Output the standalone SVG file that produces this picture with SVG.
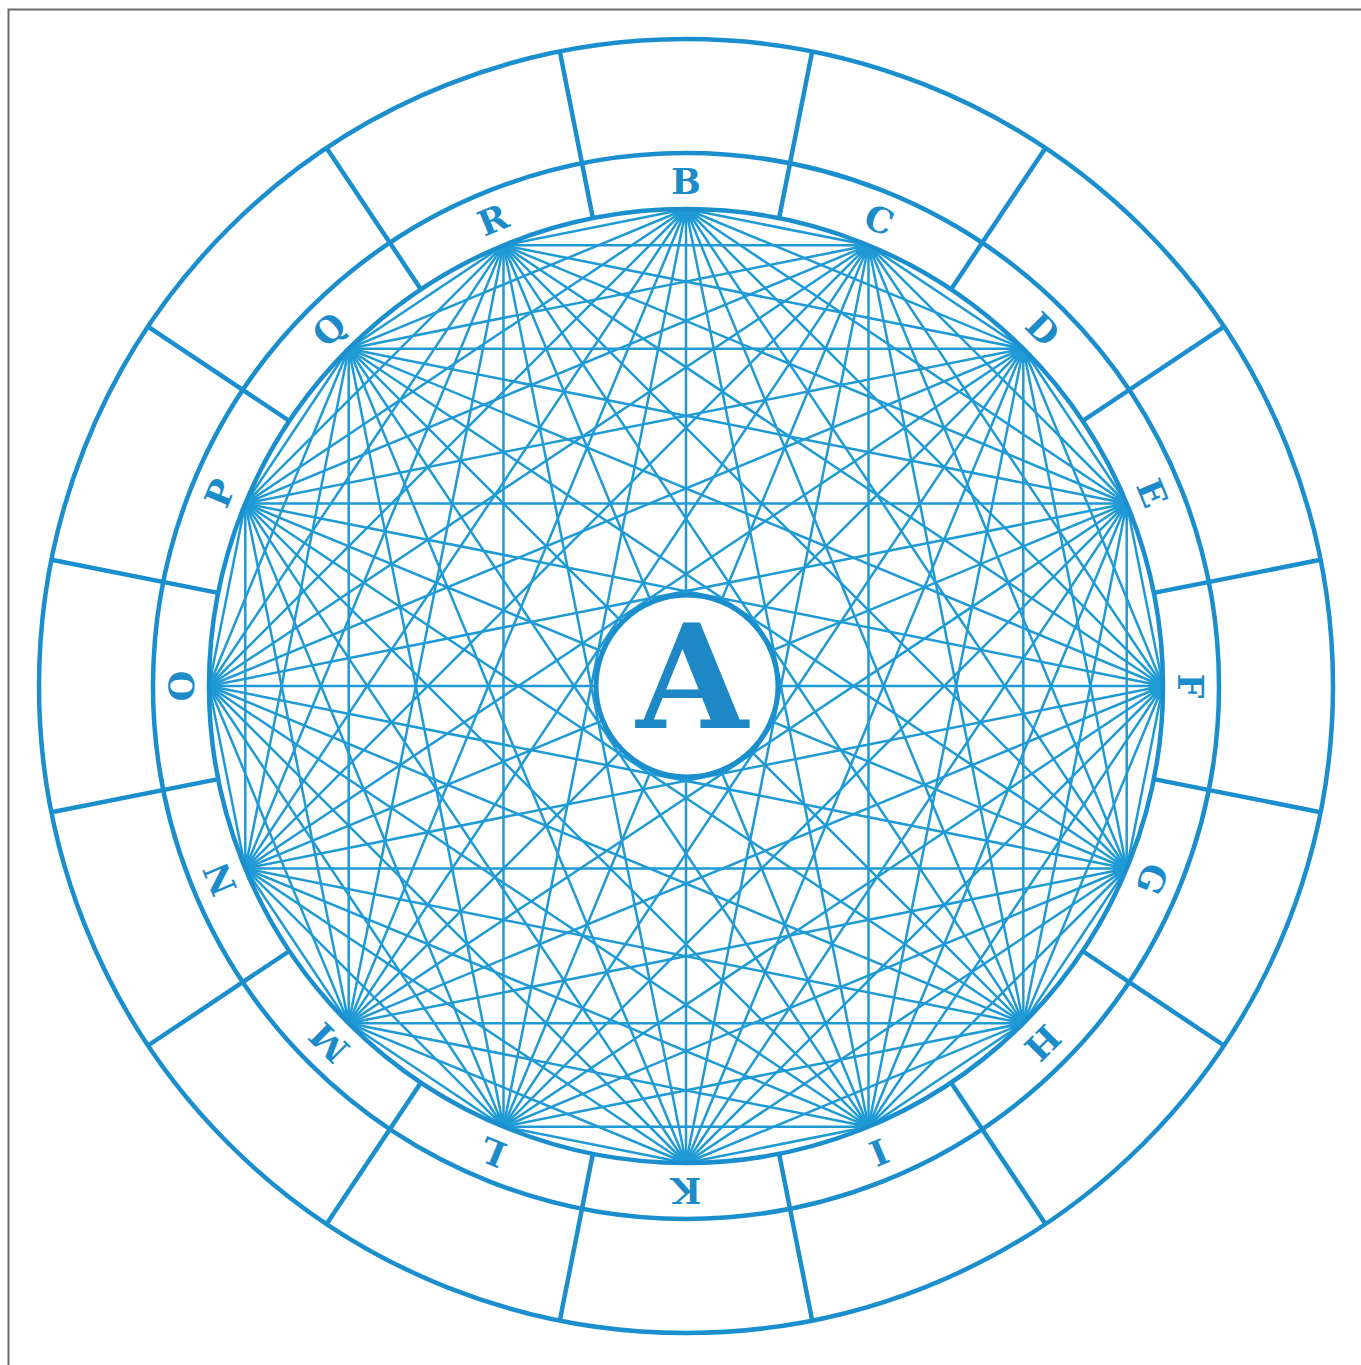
<svg xmlns="http://www.w3.org/2000/svg" width="1361" height="1365" viewBox="0 0 1361 1365">
<style>
.ring{fill:none;stroke:#1b8fcd;stroke-width:4.5}
.div{stroke:#1b8fcd;stroke-width:4.5}
.ch{fill:none;stroke:#1f9ad5;stroke-width:2.5}
.lbl{font-family:"DejaVu Serif","Liberation Serif",serif;font-weight:bold;font-size:35px;fill:#1b8bc9;text-anchor:middle}
.big{font-family:"DejaVu Serif","Liberation Serif",serif;font-weight:bold;font-size:144px;fill:#1e88c6;text-anchor:middle}
</style>
<rect width="1361" height="1365" fill="#fff"/>
<path d="M8.5 1365V9.5H1361" fill="none" stroke="#6a6a6a" stroke-width="2"/>
<g id="rings">
<circle class="ring" cx="686" cy="686" r="647"/>
<circle class="ring" cx="686" cy="686" r="533"/>
</g>
<g id="dividers">
<line class="div" x1="779.1" y1="218.2" x2="812.2" y2="51.4"/>
<line class="div" x1="951.0" y1="289.4" x2="1045.5" y2="148.0"/>
<line class="div" x1="1082.6" y1="421.0" x2="1224.0" y2="326.6"/>
<line class="div" x1="1153.8" y1="592.9" x2="1320.6" y2="559.8"/>
<line class="div" x1="1153.8" y1="779.1" x2="1320.6" y2="812.2"/>
<line class="div" x1="1082.6" y1="951.0" x2="1224.0" y2="1045.5"/>
<line class="div" x1="951.0" y1="1082.6" x2="1045.5" y2="1224.0"/>
<line class="div" x1="779.1" y1="1153.8" x2="812.2" y2="1320.6"/>
<line class="div" x1="592.9" y1="1153.8" x2="559.8" y2="1320.6"/>
<line class="div" x1="421.0" y1="1082.6" x2="326.6" y2="1224.0"/>
<line class="div" x1="289.4" y1="951.0" x2="148.0" y2="1045.5"/>
<line class="div" x1="218.2" y1="779.1" x2="51.4" y2="812.2"/>
<line class="div" x1="218.2" y1="592.9" x2="51.4" y2="559.8"/>
<line class="div" x1="289.4" y1="421.0" x2="148.0" y2="326.6"/>
<line class="div" x1="421.0" y1="289.4" x2="326.6" y2="148.0"/>
<line class="div" x1="592.9" y1="218.2" x2="559.8" y2="51.4"/>
</g>
<g id="connectors">
<path class="ch" d="M686 209L868.5 245.3M686 209L1023.3 348.7M686 209L1126.7 503.5M686 209L1163 686M686 209L1126.7 868.5M686 209L1023.3 1023.3M686 209L868.5 1126.7M686 209L686 1163M686 209L503.5 1126.7M686 209L348.7 1023.3M686 209L245.3 868.5M686 209L209 686M686 209L245.3 503.5M686 209L348.7 348.7M686 209L503.5 245.3"/>
<path class="ch" d="M868.5 245.3L1023.3 348.7M868.5 245.3L1126.7 503.5M868.5 245.3L1163 686M868.5 245.3L1126.7 868.5M868.5 245.3L1023.3 1023.3M868.5 245.3L868.5 1126.7M868.5 245.3L686 1163M868.5 245.3L503.5 1126.7M868.5 245.3L348.7 1023.3M868.5 245.3L245.3 868.5M868.5 245.3L209 686M868.5 245.3L245.3 503.5M868.5 245.3L348.7 348.7M868.5 245.3L503.5 245.3"/>
<path class="ch" d="M1023.3 348.7L1126.7 503.5M1023.3 348.7L1163 686M1023.3 348.7L1126.7 868.5M1023.3 348.7L1023.3 1023.3M1023.3 348.7L868.5 1126.7M1023.3 348.7L686 1163M1023.3 348.7L503.5 1126.7M1023.3 348.7L348.7 1023.3M1023.3 348.7L245.3 868.5M1023.3 348.7L209 686M1023.3 348.7L245.3 503.5M1023.3 348.7L348.7 348.7M1023.3 348.7L503.5 245.3"/>
<path class="ch" d="M1126.7 503.5L1163 686M1126.7 503.5L1126.7 868.5M1126.7 503.5L1023.3 1023.3M1126.7 503.5L868.5 1126.7M1126.7 503.5L686 1163M1126.7 503.5L503.5 1126.7M1126.7 503.5L348.7 1023.3M1126.7 503.5L245.3 868.5M1126.7 503.5L209 686M1126.7 503.5L245.3 503.5M1126.7 503.5L348.7 348.7M1126.7 503.5L503.5 245.3"/>
<path class="ch" d="M1163 686L1126.7 868.5M1163 686L1023.3 1023.3M1163 686L868.5 1126.7M1163 686L686 1163M1163 686L503.5 1126.7M1163 686L348.7 1023.3M1163 686L245.3 868.5M1163 686L209 686M1163 686L245.3 503.5M1163 686L348.7 348.7M1163 686L503.5 245.3"/>
<path class="ch" d="M1126.7 868.5L1023.3 1023.3M1126.7 868.5L868.5 1126.7M1126.7 868.5L686 1163M1126.7 868.5L503.5 1126.7M1126.7 868.5L348.7 1023.3M1126.7 868.5L245.3 868.5M1126.7 868.5L209 686M1126.7 868.5L245.3 503.5M1126.7 868.5L348.7 348.7M1126.7 868.5L503.5 245.3"/>
<path class="ch" d="M1023.3 1023.3L868.5 1126.7M1023.3 1023.3L686 1163M1023.3 1023.3L503.5 1126.7M1023.3 1023.3L348.7 1023.3M1023.3 1023.3L245.3 868.5M1023.3 1023.3L209 686M1023.3 1023.3L245.3 503.5M1023.3 1023.3L348.7 348.7M1023.3 1023.3L503.5 245.3"/>
<path class="ch" d="M868.5 1126.7L686 1163M868.5 1126.7L503.5 1126.7M868.5 1126.7L348.7 1023.3M868.5 1126.7L245.3 868.5M868.5 1126.7L209 686M868.5 1126.7L245.3 503.5M868.5 1126.7L348.7 348.7M868.5 1126.7L503.5 245.3"/>
<path class="ch" d="M686 1163L503.5 1126.7M686 1163L348.7 1023.3M686 1163L245.3 868.5M686 1163L209 686M686 1163L245.3 503.5M686 1163L348.7 348.7M686 1163L503.5 245.3"/>
<path class="ch" d="M503.5 1126.7L348.7 1023.3M503.5 1126.7L245.3 868.5M503.5 1126.7L209 686M503.5 1126.7L245.3 503.5M503.5 1126.7L348.7 348.7M503.5 1126.7L503.5 245.3"/>
<path class="ch" d="M348.7 1023.3L245.3 868.5M348.7 1023.3L209 686M348.7 1023.3L245.3 503.5M348.7 1023.3L348.7 348.7M348.7 1023.3L503.5 245.3"/>
<path class="ch" d="M245.3 868.5L209 686M245.3 868.5L245.3 503.5M245.3 868.5L348.7 348.7M245.3 868.5L503.5 245.3"/>
<path class="ch" d="M209 686L245.3 503.5M209 686L348.7 348.7M209 686L503.5 245.3"/>
<path class="ch" d="M245.3 503.5L348.7 348.7M245.3 503.5L503.5 245.3"/>
<path class="ch" d="M348.7 348.7L503.5 245.3"/>
</g>
<circle class="ring" cx="686" cy="686" r="477"/>
<g id="nodeB"><text class="lbl" x="686" y="194" transform="rotate(0 686 686)">B</text></g>
<g id="nodeC"><text class="lbl" x="686" y="194" transform="rotate(22.5 686 686)">C</text></g>
<g id="nodeD"><text class="lbl" x="686" y="194" transform="rotate(45 686 686)">D</text></g>
<g id="nodeE"><text class="lbl" x="686" y="194" transform="rotate(67.5 686 686)">E</text></g>
<g id="nodeF"><text class="lbl" x="686" y="194" transform="rotate(90 686 686)">F</text></g>
<g id="nodeG"><text class="lbl" x="686" y="194" transform="rotate(112.5 686 686)">G</text></g>
<g id="nodeH"><text class="lbl" x="686" y="194" transform="rotate(135 686 686)">H</text></g>
<g id="nodeI"><text class="lbl" x="686" y="194" transform="rotate(157.5 686 686)">I</text></g>
<g id="nodeK"><text class="lbl" x="686" y="194" transform="rotate(180 686 686)">K</text></g>
<g id="nodeL"><text class="lbl" x="686" y="194" transform="rotate(202.5 686 686)">L</text></g>
<g id="nodeM"><text class="lbl" x="686" y="194" transform="rotate(225 686 686)">M</text></g>
<g id="nodeN"><text class="lbl" x="686" y="194" transform="rotate(247.5 686 686)">N</text></g>
<g id="nodeO"><text class="lbl" x="686" y="194" transform="rotate(270 686 686)">O</text></g>
<g id="nodeP"><text class="lbl" x="686" y="194" transform="rotate(292.5 686 686)">P</text></g>
<g id="nodeQ"><text class="lbl" x="686" y="194" transform="rotate(315 686 686)">Q</text></g>
<g id="nodeR"><text class="lbl" x="686" y="194" transform="rotate(337.5 686 686)">R</text></g>
<g id="nodeA">
<circle cx="687" cy="686" r="91" fill="#fff" stroke="#1b8fcd" stroke-width="5"/>
<text class="big" x="692" y="728">A</text>
</g>
</svg>
